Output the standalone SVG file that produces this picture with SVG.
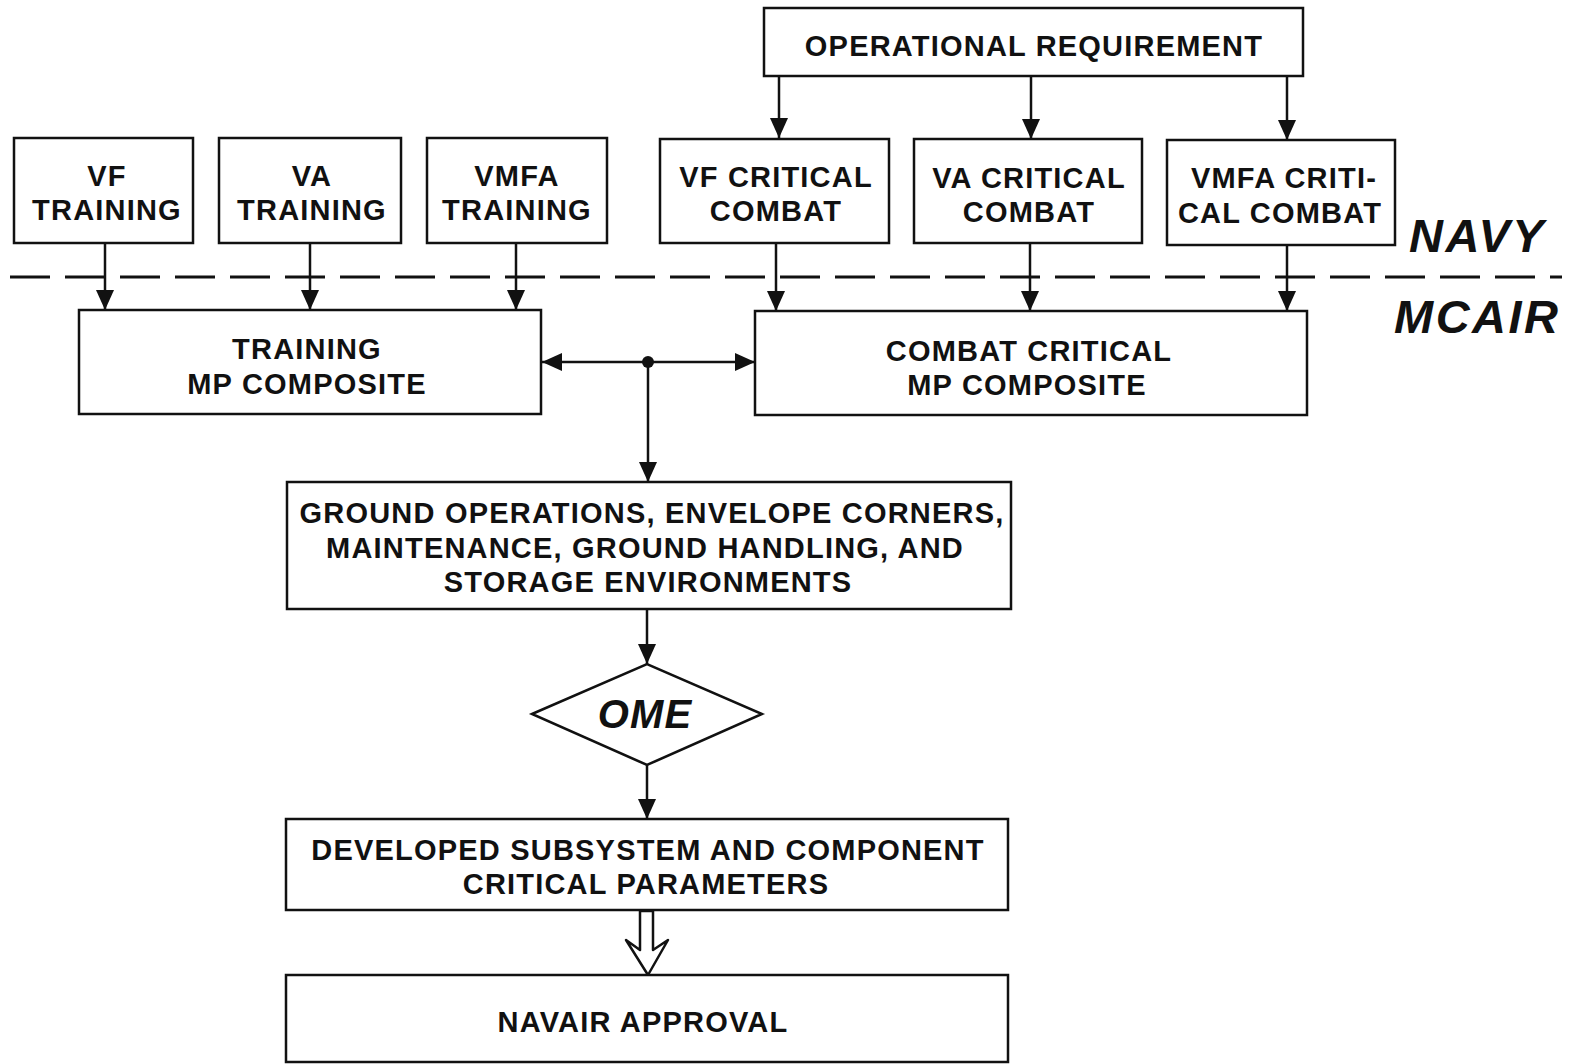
<svg xmlns="http://www.w3.org/2000/svg" width="1571" height="1064" viewBox="0 0 1571 1064">
<defs>
<style>
.box{fill:#fff;stroke:#111;stroke-width:2.5}
.t{font-family:"Liberation Sans",Arial,sans-serif;font-weight:bold;font-size:29px;fill:#111;text-anchor:middle;letter-spacing:1.2px}
.big{font-family:"Liberation Sans",Arial,sans-serif;font-weight:bold;font-style:italic;font-size:47px;fill:#111;letter-spacing:2.5px}
.ln{stroke:#111;stroke-width:2.5;fill:none}
</style>
<marker id="ah" viewBox="0 0 20 18" refX="20" refY="9" markerWidth="20" markerHeight="18" markerUnits="userSpaceOnUse" orient="auto">
<path d="M0,0 L20,9 L0,18 Z" fill="#111"/>
</marker>
</defs>
<rect width="1571" height="1064" fill="#fff"/>

<g id="connectors">
<line class="ln" x1="779" y1="76" x2="779" y2="138" marker-end="url(#ah)"/>
<line class="ln" x1="1031" y1="76" x2="1031" y2="139" marker-end="url(#ah)"/>
<line class="ln" x1="1287" y1="76" x2="1287" y2="140" marker-end="url(#ah)"/>
<line class="ln" x1="105" y1="243" x2="105" y2="310" marker-end="url(#ah)"/>
<line class="ln" x1="310" y1="243" x2="310" y2="310" marker-end="url(#ah)"/>
<line class="ln" x1="516" y1="243" x2="516" y2="310" marker-end="url(#ah)"/>
<line class="ln" x1="776" y1="243" x2="776" y2="311" marker-end="url(#ah)"/>
<line class="ln" x1="1030" y1="243" x2="1030" y2="311" marker-end="url(#ah)"/>
<line class="ln" x1="1287" y1="245" x2="1287" y2="311" marker-end="url(#ah)"/>
<line class="ln" x1="648" y1="362" x2="542" y2="362" marker-end="url(#ah)"/>
<line class="ln" x1="648" y1="362" x2="755" y2="362" marker-end="url(#ah)"/>
<circle cx="648" cy="362" r="6" fill="#111"/>
<line class="ln" x1="648" y1="362" x2="648" y2="482" marker-end="url(#ah)"/>
<line class="ln" x1="647" y1="609" x2="647" y2="664" marker-end="url(#ah)"/>
<line class="ln" x1="647" y1="765" x2="647" y2="819" marker-end="url(#ah)"/>
<path d="M640,911 L653,911 L653,950 L668,940 L648,975 L626,940 L640,950 Z" fill="#fff" stroke="#111" stroke-width="2.5" stroke-linejoin="round"/>
</g>

<line id="divider" x1="10" y1="277" x2="1562" y2="277" stroke="#111" stroke-width="3" stroke-dasharray="40,15"/>
<text class="big" x="1409" y="252">NAVY</text>
<text class="big" x="1394" y="333">MCAIR</text>

<g id="n-opreq"><rect class="box" x="764" y="8" width="539" height="68"/><text class="t" x="1034" y="56">OPERATIONAL REQUIREMENT</text></g>

<g id="n-vftr"><rect class="box" x="14" y="138" width="179" height="105"/><text class="t" x="107" y="186">VF</text><text class="t" x="107" y="220">TRAINING</text></g>
<g id="n-vatr"><rect class="box" x="219" y="138" width="182" height="105"/><text class="t" x="312" y="186">VA</text><text class="t" x="312" y="220">TRAINING</text></g>
<g id="n-vmfatr"><rect class="box" x="427" y="138" width="180" height="105"/><text class="t" x="517" y="186">VMFA</text><text class="t" x="517" y="220">TRAINING</text></g>
<g id="n-vfcc"><rect class="box" x="660" y="139" width="229" height="104"/><text class="t" x="776" y="187">VF CRITICAL</text><text class="t" x="776" y="221">COMBAT</text></g>
<g id="n-vacc"><rect class="box" x="914" y="139" width="228" height="104"/><text class="t" x="1029" y="188">VA CRITICAL</text><text class="t" x="1029" y="222">COMBAT</text></g>
<g id="n-vmfacc"><rect class="box" x="1167" y="140" width="228" height="105"/><text class="t" x="1284" y="188">VMFA CRITI-</text><text class="t" x="1280" y="223">CAL COMBAT</text></g>

<g id="n-trmp"><rect class="box" x="79" y="310" width="462" height="104"/><text class="t" x="307" y="359">TRAINING</text><text class="t" x="307" y="394">MP COMPOSITE</text></g>
<g id="n-ccmp"><rect class="box" x="755" y="311" width="552" height="104"/><text class="t" x="1029" y="361">COMBAT CRITICAL</text><text class="t" x="1027" y="395">MP COMPOSITE</text></g>

<g id="n-ground"><rect class="box" x="287" y="482" width="724" height="127"/>
<text class="t" x="652" y="523">GROUND OPERATIONS, ENVELOPE CORNERS,</text>
<text class="t" x="645" y="558">MAINTENANCE, GROUND HANDLING, AND</text>
<text class="t" x="648" y="592">STORAGE ENVIRONMENTS</text></g>

<g id="n-ome"><path d="M532,714 L647,664 L762,714 L647,765 Z" fill="#fff" stroke="#111" stroke-width="2.5"/>
<text class="t" x="645" y="728" style="font-style:italic;font-size:40px">OME</text></g>

<g id="n-dev"><rect class="box" x="286" y="819" width="722" height="91"/>
<text class="t" x="648" y="860">DEVELOPED SUBSYSTEM AND COMPONENT</text>
<text class="t" x="646" y="894">CRITICAL PARAMETERS</text></g>

<g id="n-navair"><rect class="box" x="286" y="975" width="722" height="87"/>
<text class="t" x="643" y="1032">NAVAIR APPROVAL</text></g>
</svg>
